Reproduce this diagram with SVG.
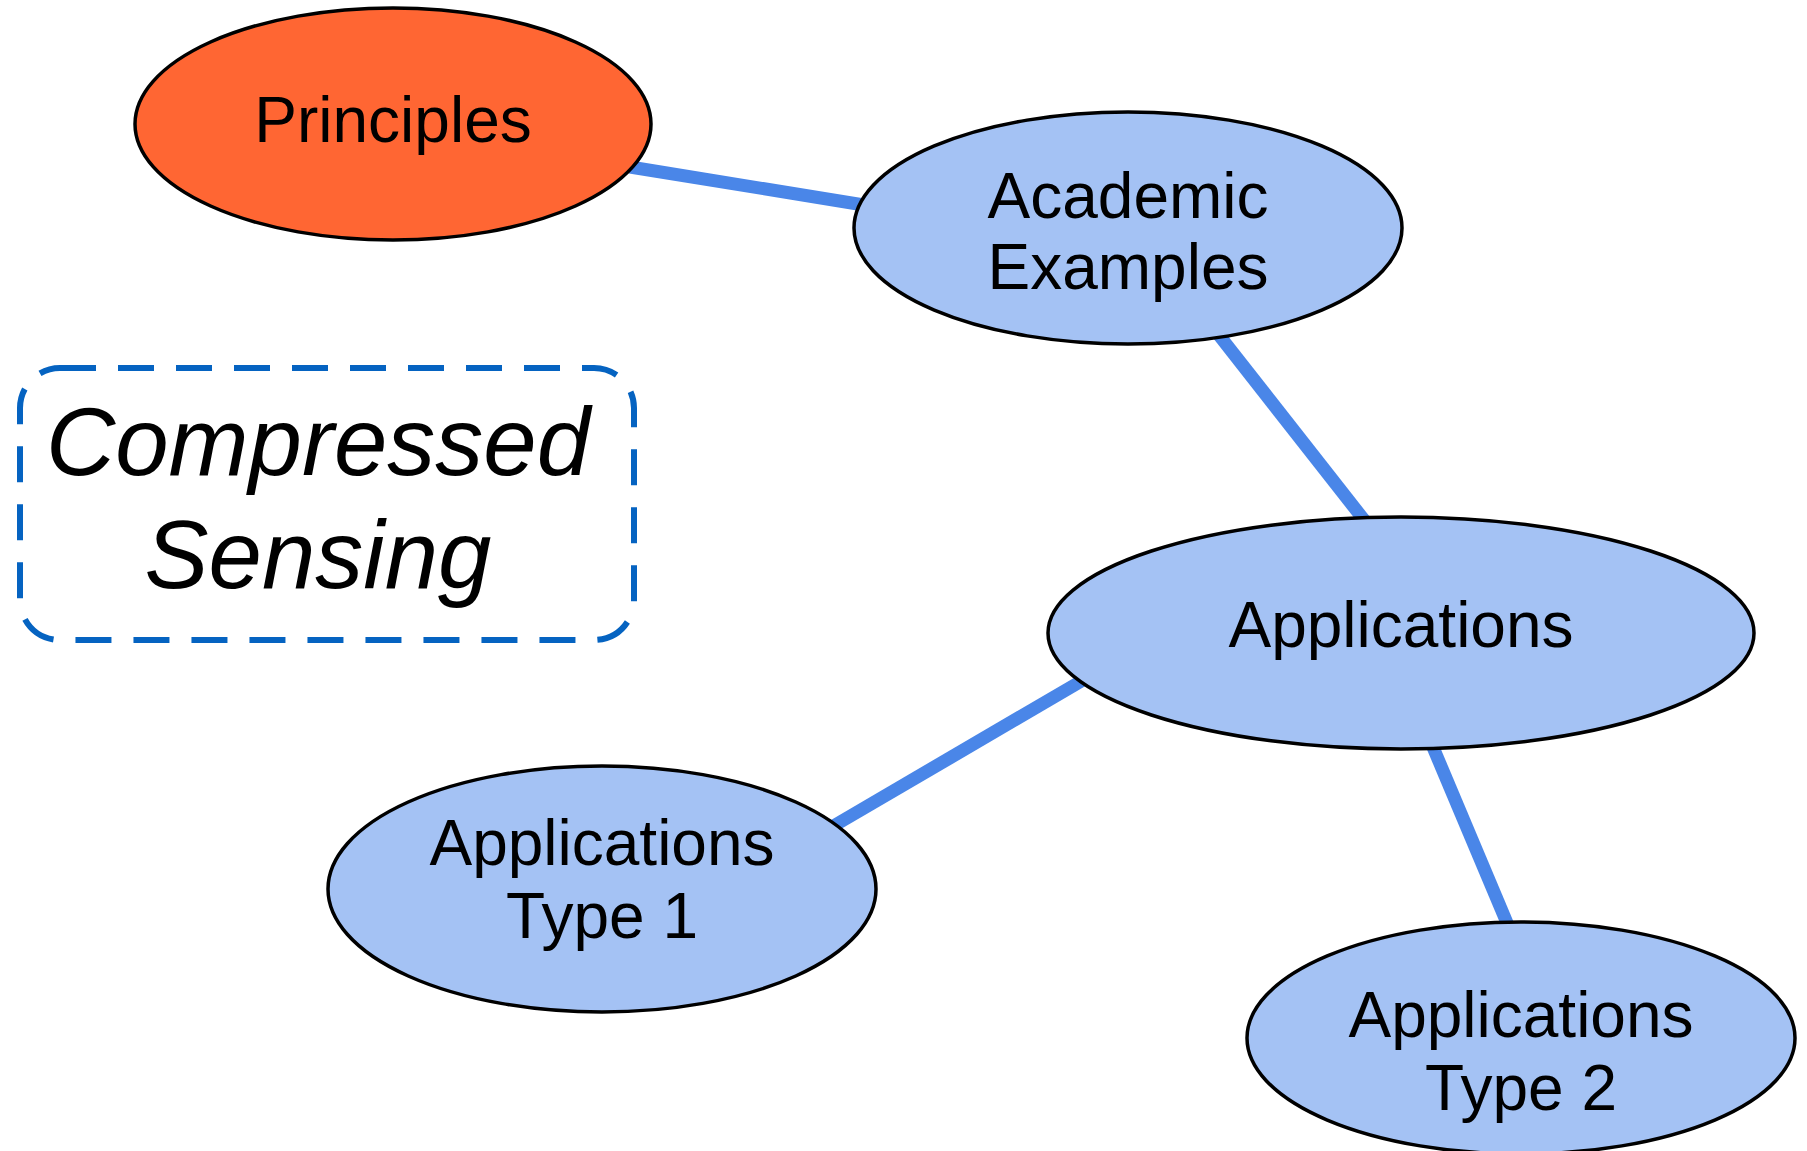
<svg xmlns="http://www.w3.org/2000/svg" width="1807" height="1151" viewBox="0 0 1807 1151">
  <style>
    .node { stroke: #000; stroke-width: 3.5; }
    .root { fill: #ff6633; }
    .leaf { fill: #a4c2f4; }
    .label { font-family: "Liberation Sans", Arial, sans-serif; font-size: 64px; fill: #000; text-anchor: middle; }
    .edge { stroke: #4a86e8; stroke-width: 13; fill: none; }
    .title { font-family: "Liberation Sans", Arial, sans-serif; font-style: italic; font-size: 96px; fill: #000; text-anchor: middle; }
  </style>
  <rect width="1807" height="1151" fill="#fff"/>

  <!-- links between topics -->
  <g id="connectors">
    <line class="edge" x1="630" y1="167" x2="870" y2="206"/>
    <line class="edge" x1="1215" y1="330" x2="1368" y2="525"/>
    <line class="edge" x1="1090" y1="676" x2="830" y2="828"/>
    <line class="edge" x1="1430" y1="740" x2="1510" y2="930"/>
  </g>

  <g id="principles">
    <ellipse class="node root" cx="393" cy="124" rx="258" ry="116"/>
    <text class="label" x="393" y="142">Principles</text>
  </g>

  <g id="academic-examples">
    <ellipse class="node leaf" cx="1128" cy="228" rx="274" ry="116"/>
    <text class="label" x="1128" y="218">Academic</text>
    <text class="label" x="1128" y="289">Examples</text>
  </g>

  <g id="applications">
    <ellipse class="node leaf" cx="1401" cy="633" rx="353" ry="116"/>
    <text class="label" x="1401" y="647">Applications</text>
  </g>

  <g id="applications-type-1">
    <ellipse class="node leaf" cx="602" cy="889" rx="274" ry="123"/>
    <text class="label" x="602" y="865">Applications</text>
    <text class="label" x="602" y="938">Type 1</text>
  </g>

  <g id="applications-type-2">
    <ellipse class="node leaf" cx="1521" cy="1038" rx="274" ry="116"/>
    <text class="label" x="1521" y="1037">Applications</text>
    <text class="label" x="1521" y="1110">Type 2</text>
  </g>

  <g id="title-box">
    <rect x="20" y="368" width="614" height="272" rx="40" ry="40" fill="none" stroke="#0563c1" stroke-width="6" stroke-dasharray="36 22"/>
    <text class="title" x="318" y="475">Compressed</text>
    <text class="title" x="318" y="588">Sensing</text>
  </g>
</svg>
